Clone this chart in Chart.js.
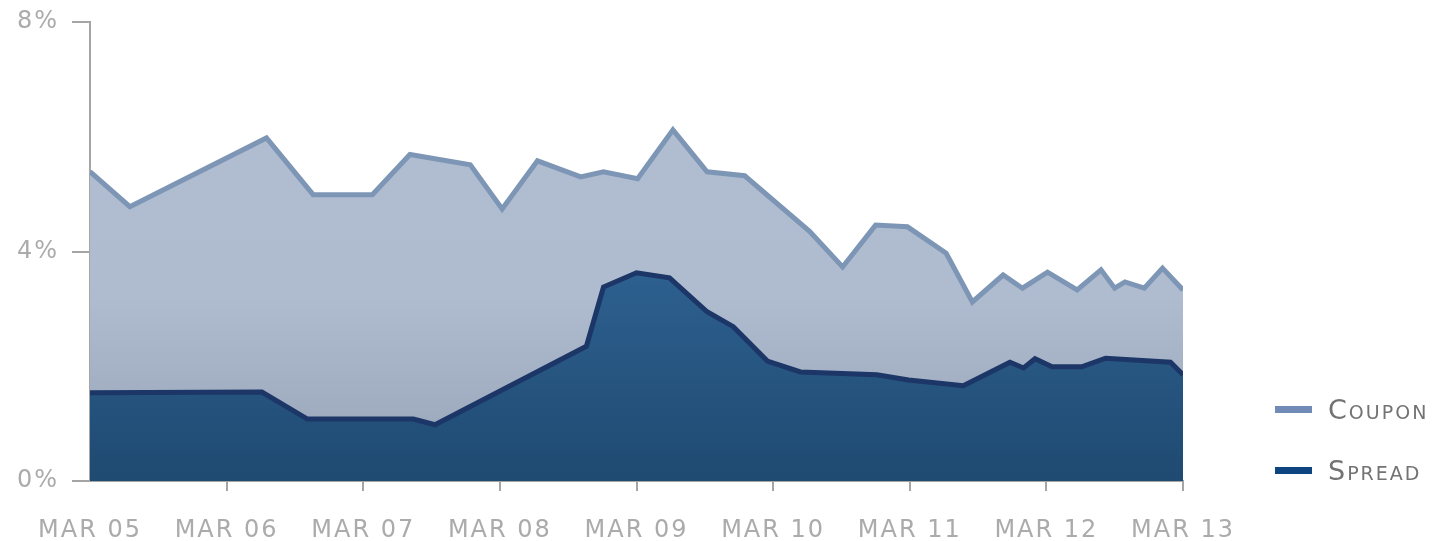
<!DOCTYPE html>
<html>
<head>
<meta charset="utf-8">
<script src="https://cdn.jsdelivr.net/npm/chart.js@4/dist/chart.umd.min.js"></script>
<style>
  html, body { margin: 0; padding: 0; background: #fff; }
  #wrap { position: relative; width: 1447px; height: 541px; }
  .leg { position: absolute; left: 1275px; height: 24px; display: flex; align-items: center;
         font-family: "DejaVu Sans", sans-serif; font-variant: small-caps; font-size: 27px;
         color: #737373; letter-spacing: 2px; }
  .leg span.sw { display: inline-block; width: 37px; height: 7px; margin-right: 16px; }
</style>
</head>
<body>
<div id="wrap">
  <canvas id="chart" width="1447" height="541"></canvas>
  <div class="leg" style="top:397px"><span class="sw" style="background:#6f8bb6"></span>Coupon</div>
  <div class="leg" style="top:458px"><span class="sw" style="background:#0e4581"></span>Spread</div>
</div>
<script>
// months since Mar 2005
var couponMonths = [0, 3.5, 15.5, 19.6, 24.8, 28.1, 33.4, 36.2, 39.3, 43.1, 45.1, 48.1, 51.2, 54.2, 57.5,
  63.2, 66.1, 69.0, 71.8, 75.2, 77.5, 80.2, 81.9, 84.1, 86.7, 88.8, 90.0, 90.9, 92.6, 94.2, 96];
var couponValues = [5.39, 4.78, 5.98, 4.99, 4.99, 5.69, 5.51, 4.74, 5.58, 5.30, 5.39, 5.27, 6.12, 5.39, 5.32,
  4.35, 3.73, 4.46, 4.43, 3.97, 3.12, 3.59, 3.36, 3.64, 3.33, 3.68, 3.36, 3.47, 3.36, 3.71, 3.33];

var spreadMonths = [0, 15.1, 19.1, 28.4, 30.3, 43.6, 45.1, 48.0, 50.9, 54.2, 56.5, 59.5, 62.4, 69.1,
  71.9, 76.7, 80.8, 82.0, 83.0, 84.5, 87.1, 89.2, 94.9, 96];
var spreadValues = [1.54, 1.55, 1.08, 1.08, 0.98, 2.35, 3.38, 3.63, 3.54, 2.95, 2.69, 2.09, 1.90, 1.85,
  1.76, 1.66, 2.07, 1.97, 2.13, 1.99, 1.99, 2.14, 2.07, 1.85];

var xTickLabels = ['MAR 05', 'MAR 06', 'MAR 07', 'MAR 08', 'MAR 09', 'MAR 10', 'MAR 11', 'MAR 12', 'MAR 13'];
var yTicks = [0, 4, 8];

function toPoints(xs, ys) {
  return xs.map(function (x, i) { return { x: x, y: ys[i] }; });
}

function couponFill(context) {
  var area = context.chart.chartArea;
  if (!area) return '#b0bdd0';
  var g = context.chart.ctx.createLinearGradient(0, area.top, 0, area.bottom);
  g.addColorStop(0, '#b1bed1');
  g.addColorStop(0.6, '#afbccf');
  g.addColorStop(0.88, '#9eaabd');
  g.addColorStop(1, '#9aa6b9');
  return g;
}

function spreadFill(context) {
  var area = context.chart.chartArea;
  if (!area) return '#26527a';
  var g = context.chart.ctx.createLinearGradient(0, area.top + 240, 0, area.bottom);
  g.addColorStop(0, '#2e6191');
  g.addColorStop(1, '#1f4a71');
  return g;
}

var axisGray = '#a5a5a5';
var labelFont = { family: '"DejaVu Sans", sans-serif', size: 24, weight: 'normal' };
var yLabelFont = { family: '"DejaVu Sans", sans-serif', size: 24, weight: 'normal', lineHeight: 0.75 };

var spacing = {
  id: 'spacing',
  beforeDraw: function (chart) { chart.ctx.letterSpacing = '2px'; }
};

var chart = new Chart(document.getElementById('chart'), {
  type: 'line',
  data: {
    datasets: [
      {
        label: 'Spread',
        data: toPoints(spreadMonths, spreadValues),
        borderColor: '#1b3667',
        borderWidth: 5,
        backgroundColor: spreadFill,
        fill: 'origin',
        pointRadius: 0,
        tension: 0,
        order: 0
      },
      {
        label: 'Coupon',
        data: toPoints(couponMonths, couponValues),
        borderColor: '#7d96b5',
        borderWidth: 5,
        backgroundColor: couponFill,
        fill: 'origin',
        pointRadius: 0,
        tension: 0,
        order: 1
      }
    ]
  },
  options: {
    responsive: false,
    animation: false,
    layout: { padding: { top: 10, right: 264, left: 0, bottom: 0 } },
    plugins: { legend: { display: false }, tooltip: { enabled: false } },
    scales: {
      x: {
        type: 'linear',
        min: 0,
        max: 96,
        afterFit: function (s) { s.height = 60; },
        afterBuildTicks: function (s) {
          s.ticks = xTickLabels.map(function (l, i) { return { value: i * 12 }; });
        },
        ticks: {
          autoSkip: false,
          maxRotation: 0,
          padding: 25,
          color: '#ababab',
          font: labelFont,
          callback: function (v) { return xTickLabels[Math.round(v / 12)]; }
        },
        grid: {
          drawOnChartArea: false,
          tickLength: 10,
          lineWidth: 2,
          color: function (c) { return c.index === 0 ? 'rgba(0,0,0,0)' : axisGray; }
        },
        border: { color: axisGray, width: 2 }
      },
      y: {
        min: 0,
        max: 8,
        afterFit: function (s) { s.width = 90; },
        afterBuildTicks: function (s) {
          s.ticks = yTicks.map(function (v) { return { value: v }; });
        },
        ticks: {
          padding: 13,
          color: '#ababab',
          font: yLabelFont,
          callback: function (v) { return v + '%'; }
        },
        grid: { drawOnChartArea: false, tickLength: 18, lineWidth: 2, color: axisGray },
        border: { color: axisGray, width: 2 }
      }
    }
  },
  plugins: [spacing]
});
</script>
</body>
</html>
